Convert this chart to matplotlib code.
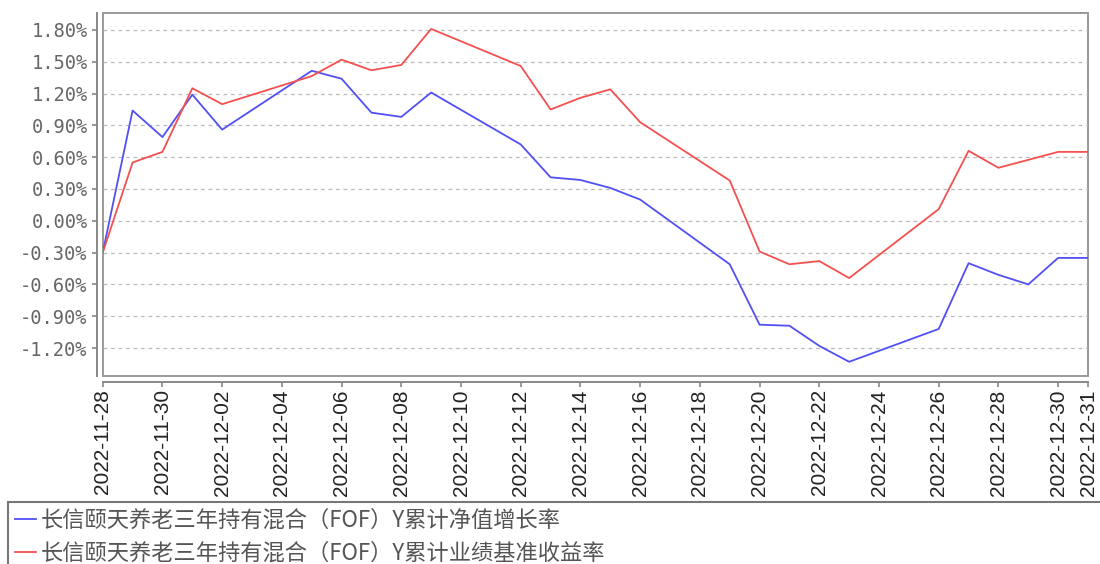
import matplotlib
matplotlib.use("Agg")
import matplotlib.pyplot as plt
from matplotlib.patches import Rectangle
import pandas as pd

dates = ['2022-11-28', '2022-11-29', '2022-11-30', '2022-12-01', '2022-12-02',
         '2022-12-05', '2022-12-06', '2022-12-07', '2022-12-08', '2022-12-09',
         '2022-12-12', '2022-12-13', '2022-12-14', '2022-12-15', '2022-12-16',
         '2022-12-19', '2022-12-20', '2022-12-21', '2022-12-22', '2022-12-23',
         '2022-12-26', '2022-12-27', '2022-12-28', '2022-12-29', '2022-12-30',
         '2022-12-31']
nav_growth = [-0.30, 1.04, 0.79, 1.19, 0.86, 1.415, 1.34, 1.02, 0.98, 1.21,
              0.72, 0.41, 0.385, 0.31, 0.20, -0.41, -0.98, -0.99, -1.18, -1.33,
              -1.02, -0.40, -0.51, -0.60, -0.35, -0.35]
benchmark = [-0.30, 0.55, 0.65, 1.25, 1.10, 1.365, 1.52, 1.42, 1.47, 1.81,
             1.46, 1.05, 1.16, 1.24, 0.93, 0.38, -0.29, -0.41, -0.38, -0.54,
             0.11, 0.66, 0.50, 0.575, 0.65, 0.65]
label_nav = '长信颐天养老三年持有混合（FOF）Y累计净值增长率'
label_bm = '长信颐天养老三年持有混合（FOF）Y累计业绩基准收益率'
yticks = [-1.20, -0.90, -0.60, -0.30, 0.00, 0.30, 0.60, 0.90, 1.20, 1.50, 1.80]
xtick_dates = ['2022-11-28', '2022-11-30', '2022-12-02', '2022-12-04', '2022-12-06',
               '2022-12-08', '2022-12-10', '2022-12-12', '2022-12-14', '2022-12-16',
               '2022-12-18', '2022-12-20', '2022-12-22', '2022-12-24', '2022-12-26',
               '2022-12-28', '2022-12-30', '2022-12-31']

x = pd.to_datetime(dates)

fig = plt.figure(figsize=(11, 5.64), dpi=100)
ax = fig.add_axes([0.0934, 0.3339, 0.8957, 0.6436])

l1, = ax.plot(x, nav_growth, color='#5050f5', lw=1.3)
l2, = ax.plot(x, benchmark, color='#f55050', lw=1.3)

ax.set_xlim(x[0], x[-1])
ax.set_ylim(-1.461, 1.963)

ax.grid(axis='y', color='#bbbbbb', linestyle=(0, (3, 3)), lw=0.9)
ax.grid(axis='x', visible=False)

for s in ['top', 'right']:
    ax.spines[s].set_visible(False)
for s in ['left', 'bottom']:
    ax.spines[s].set_position(('outward', 4.3))
    ax.spines[s].set_color('#888888')
    ax.spines[s].set_linewidth(1.4)
ax.add_patch(Rectangle((0, 0), 1, 1, transform=ax.transAxes, fill=False,
                       edgecolor='#999999', lw=1.4, clip_on=False))
ax.tick_params(axis='both', color='#888888', length=3.5, width=1.2)
ax.tick_params(axis='y', pad=3)
ax.tick_params(axis='x', pad=2)

ax.set_yticks(yticks, labels=['%.2f%%' % v for v in yticks],
              family='DejaVu Sans Mono', fontsize=13.5, color='#666666')
ax.set_xticks(pd.to_datetime(xtick_dates), labels=xtick_dates, rotation=90,
              family='Liberation Sans', fontsize=15, color='#222222')

leg = fig.legend([l1, l2], [label_nav, label_bm], loc='upper left',
                 bbox_to_anchor=(8 / 1100, 0, 1.5, 62 / 564), mode='expand',
                 prop={'family': ['Noto Sans CJK SC', 'DejaVu Sans'], 'size': 16},
                 handlelength=0.95, handletextpad=0.22, labelspacing=0.45,
                 borderpad=0.3, borderaxespad=0, fancybox=False, frameon=True,
                 labelcolor='#555555')
leg.get_frame().set_edgecolor('#555555')
leg.get_frame().set_linewidth(1.5)

fig.savefig('out.png', dpi=100)
